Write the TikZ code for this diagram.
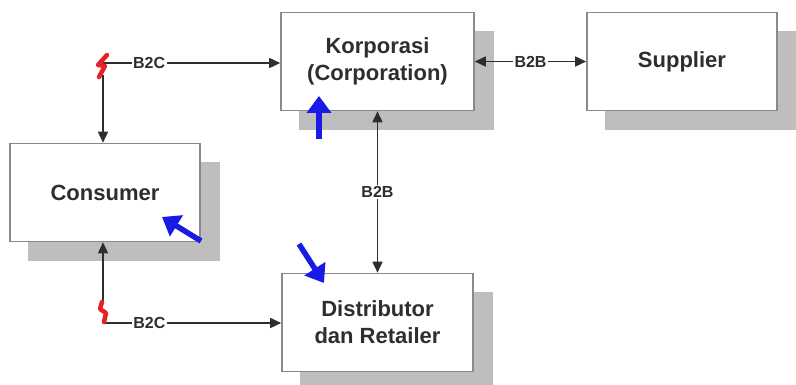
\documentclass[tikz,border=0pt]{standalone}
\usepackage{fontspec}
\setmainfont{Liberation Sans}
\usetikzlibrary{arrows.meta,backgrounds,calc}
\definecolor{boxline}{HTML}{8A8A8A}
\definecolor{shadowc}{HTML}{BEBEBE}
\definecolor{txt}{HTML}{2E2E2E}
\definecolor{bluearr}{HTML}{1A1AE6}
\definecolor{redmark}{HTML}{E8202A}
\tikzset{
  entity/.style={draw=boxline, line width=1.6pt, fill=white, minimum width=#1, minimum height=98pt,
    align=center, text=txt, font=\fontsize{22}{27}\selectfont\bfseries, inner sep=0pt},
  entity/.default=191pt,
  link/.style={line width=1.6pt, draw=txt},
  tipend/.style={-{Triangle[length=11pt,width=10pt]}},
  tipboth/.style={{Triangle[length=11pt,width=10pt]}-{Triangle[length=11pt,width=10pt]}},
  lbl/.style={fill=white, text=txt, font=\fontsize{16}{16}\selectfont\bfseries, inner sep=1.5pt},
  shadowbox/.style={fill=shadowc},
  hint/.style={draw=bluearr, line width=5.5pt, -{Triangle[length=17pt,width=24pt]}},
  bolt/.style={draw=redmark, line width=4.5pt, line join=round, line cap=round},
}
\begin{document}
\begin{tikzpicture}[x=1pt,y=-1pt]
\useasboundingbox (0,0) rectangle (796,385);
\node[entity=193pt] (kor) at (377.5,61.5) {Korporasi\\(Corporation)};
\node[entity=190pt] (sup) at (682,61.5) {Supplier};
\node[entity=190pt] (con) at (105,192.5) {Consumer};
\node[entity=191pt] (dis) at (377.5,322.5) {Distributor\\dan Retailer};
\begin{scope}[on background layer]
\foreach \n in {kor,sup,con,dis}{
  \fill[shadowbox] ($(\n.north west)+(19,19)$) rectangle ($(\n.south east)+(19,19)$);
}
\end{scope}
\coordinate (tl) at (103,63);
\coordinate (bl) at (103,323);
% connectors
\draw[link,tipend] (tl) -- node[lbl,pos=0.26] {B2C} (tl -| kor.west);
\draw[link,tipend] ($(tl)+(0,12)$) -- (tl |- con.north);
\draw[link,tipend] ($(bl)+(0,-22)$) -- (bl |- con.south);
\draw[link,tipend] (bl) -- node[lbl,pos=0.26] {B2C} (bl -| dis.west);
\draw[link,tipboth] (kor.east) -- node[lbl] {B2B} (sup.west);
\draw[link,tipboth] (kor.south) -- node[lbl] {B2B} (dis.north);
% red marks
\draw[bolt] (107,55) -- (98,65) -- (105,66) -- (99,77);
\draw[bolt] (102,302) -- (100,309) -- (106,313) -- (104,322);
% blue hint arrows
\coordinate (h1s) at (319,139); \coordinate (h1e) at (319,96);
\coordinate (h2s) at (201,241); \coordinate (h2e) at (162,217);
\coordinate (h3s) at (299,244); \coordinate (h3e) at (324,283);
\draw[hint] (h1s) -- (h1e);
\draw[hint] (h2s) -- (h2e);
\draw[hint] (h3s) -- (h3e);
\end{tikzpicture}
\end{document}
